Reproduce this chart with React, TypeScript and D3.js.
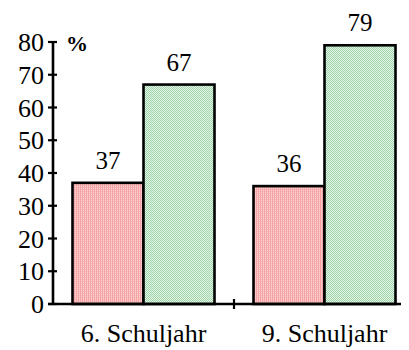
import React, { useLayoutEffect, useRef } from "react";
import * as d3 from "d3";

const categories = ["6. Schuljahr", "9. Schuljahr"];
const seriesA = [37, 36];
const seriesB = [67, 79];
const yTicks = [0, 10, 20, 30, 40, 50, 60, 70, 80];

const W = 409;
const H = 350;
const serif = { fontFamily: '"Liberation Serif"' };

export default function App() {
  const svgRef = useRef<SVGSVGElement>(null);
  const x0 = 53;
  const y0 = 304;
  const y = d3.scaleLinear().domain([0, 80]).range([y0, 42]);
  const x = d3.scaleBand<string>().domain(categories).range([x0, 415]).paddingInner(0).paddingOuter(0);
  const sub = d3.scaleBand<string>().domain(["a", "b"]).range([0, 142]);
  const groupOffset = (x.bandwidth() - 142) / 2;

  const bars: { key: string; cat: string; v: number; fill: string }[] = [];
  categories.forEach((c, i) => {
    bars.push({ key: "a", cat: c, v: seriesA[i], fill: "url(#pinkPat)" });
    bars.push({ key: "b", cat: c, v: seriesB[i], fill: "url(#greenPat)" });
  });

  // Position labels by their measured width (centre or right alignment).
  useLayoutEffect(() => {
    if (!svgRef.current) return;
    d3.select(svgRef.current)
      .selectAll<SVGTextElement, unknown>("text[data-ax]")
      .each(function () {
        const el = this;
        const ax = Number(el.getAttribute("data-ax"));
        const mode = el.getAttribute("data-anchor");
        const w = el.getComputedTextLength();
        el.setAttribute("x", String(mode === "end" ? ax - w : ax - w / 2));
      });
  });

  return (
    <div>
      <svg ref={svgRef} width={W} height={H} style={{ display: "block", margin: "-8px 0 0 -8px" }}>
        <defs>
          <pattern id="pinkPat" width="2" height="2" patternUnits="userSpaceOnUse">
            <rect width="2" height="2" fill="#fbd0d0" />
            <rect x="0" width="1" height="2" fill="#f4a4a4" />
            <rect x="1" y="1" width="1" height="1" fill="#f8baba" />
          </pattern>
          <pattern id="greenPat" width="2" height="2" patternUnits="userSpaceOnUse">
            <rect width="2" height="2" fill="#e4f4e6" />
            <rect x="0" y="0" width="1" height="1" fill="#9fd4ab" />
            <rect x="1" y="1" width="1" height="1" fill="#9fd4ab" />
          </pattern>
        </defs>

        {bars.map((b, i) => {
          const bx = (x(b.cat) as number) + groupOffset + (sub(b.key) as number);
          const by = y(b.v);
          return (
            <rect
              key={i}
              x={bx}
              y={by}
              width={sub.bandwidth()}
              height={y0 - by}
              fill={b.fill}
              stroke="#000"
              strokeWidth={2.6}
            />
          );
        })}

        {/* y axis */}
        <line x1={x0} x2={x0} y1={y(80)} y2={y0} stroke="#000" strokeWidth={2.6} />
        {yTicks.map((t) => (
          <line key={t} x1={x0 - 5} x2={x0 + 4} y1={y(t)} y2={y(t)} stroke="#000" strokeWidth={2.2} />
        ))}

        {/* x axis */}
        <line x1={x0 - 5} x2={404} y1={y0} y2={y0} stroke="#000" strokeWidth={2.6} />
        <line
          x1={x(categories[1]) as number}
          x2={x(categories[1]) as number}
          y1={y0 - 5}
          y2={y0 + 5}
          stroke="#000"
          strokeWidth={2.2}
        />

        {/* labels */}
        {yTicks.map((t) => (
          <text
            key={"t" + t}
            data-ax={x0 - 9}
            data-anchor="end"
            x={x0 - 35}
            y={y(t) + 9}
            fontSize={26}
            style={serif}
          >
            {t}
          </text>
        ))}
        {bars.map((b, i) => {
          const cx = (x(b.cat) as number) + groupOffset + (sub(b.key) as number) + sub.bandwidth() / 2;
          return (
            <text
              key={"v" + i}
              data-ax={cx}
              data-anchor="middle"
              x={cx - 12}
              y={y(b.v) - 14}
              fontSize={25}
              style={serif}
            >
              {b.v}
            </text>
          );
        })}
        {categories.map((c) => {
          const cx = (x(c) as number) + x.bandwidth() / 2;
          return (
            <text key={c} data-ax={cx} data-anchor="middle" x={cx - 62} y={342} fontSize={26} style={serif}>
              {c}
            </text>
          );
        })}
        <text x={66} y={51} fontWeight="bold" fontSize={22} style={serif}>
          %
        </text>
      </svg>
    </div>
  );
}
